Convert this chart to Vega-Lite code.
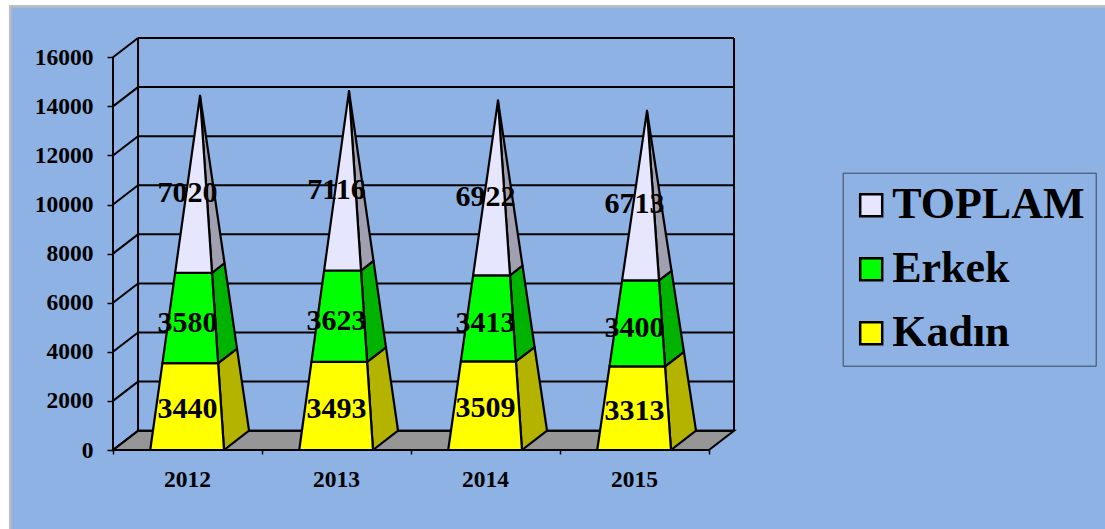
{
"$schema":"https://vega.github.io/schema/vega-lite/v6.json",
"width":621,"height":412,
"autosize":{"type":"none"},
"padding":{"left":113,"top":38,"right":371,"bottom":79},
"background":"#ffffff",
"config":{"view":{"stroke":null},"font":"Liberation Serif"},
"datasets":{
"sales":[
{"year":2012,"series":"Kadın","value":3440},{"year":2012,"series":"Erkek","value":3580},{"year":2012,"series":"TOPLAM","value":7020},
{"year":2013,"series":"Kadın","value":3493},{"year":2013,"series":"Erkek","value":3623},{"year":2013,"series":"TOPLAM","value":7116},
{"year":2014,"series":"Kadın","value":3509},{"year":2014,"series":"Erkek","value":3413},{"year":2014,"series":"TOPLAM","value":6922},
{"year":2015,"series":"Kadın","value":3313},{"year":2015,"series":"Erkek","value":3400},{"year":2015,"series":"TOPLAM","value":6713}
],
"grid":[{"v":0},{"v":2000},{"v":4000},{"v":6000},{"v":8000},{"v":10000},{"v":12000},{"v":14000},{"v":16000}]
},
"encoding":{
"x":{"field":"x","type":"quantitative","title":null,"scale":{"domain":[2011.5,2015.668],"nice":false,"zero":false},
"axis":{"values":[2011.5,2012.5,2013.5,2014.5,2015.5],"domain":false,"grid":false,"zindex":1,"tickColor":"#000000","tickWidth":1.5,"tickSize":4,"labelOffset":74,"labelExpr":"datum.value<2015?''+(floor(datum.value)+1):''","labelFont":"Liberation Serif","labelFontWeight":"bold","labelFontSize":23.5,"labelColor":"#000000","labelPadding":13,"labelOverlap":false,"labelBound":false,"labelFlush":false}},
"y":{"field":"y","type":"quantitative","title":null,"scale":{"domain":[0,16786],"nice":false,"zero":false},
"axis":{"values":[0,2000,4000,6000,8000,10000,12000,14000,16000],"format":"d","domain":false,"grid":false,"zindex":1,"tickColor":"#000000","tickWidth":1.5,"tickSize":6,"labelFont":"Liberation Serif","labelFontWeight":"bold","labelFontSize":23.5,"labelColor":"#000000","labelPadding":14,"labelOverlap":false,"labelBound":false}}
},
"layer":[
{"data":{"values":[{"x":2010.81,"x2":2018.3,"y":18080,"y2":-3700}]},
 "mark":{"type":"rect","fill":"#8DB2E3","stroke":"#BFBFBF","strokeWidth":2.5},
 "encoding":{"x2":{"field":"x2"},"y2":{"field":"y2"}}},
{"data":{"values":[{"x":2011.5,"y":0,"c":0},{"x":2015.5,"y":0,"c":1},{"x":2015.668,"y":786,"c":2},{"x":2011.668,"y":786,"c":3}]},
 "mark":{"type":"line","interpolate":"linear-closed","fill":"#969696","stroke":"#000000","strokeWidth":2},
 "encoding":{"order":{"field":"c"}}},
{"data":{"name":"grid"},
 "transform":[{"calculate":"2011.668","as":"x"},{"calculate":"2015.668","as":"x2"},{"calculate":"datum.v+786","as":"y"}],
 "mark":{"type":"rule","stroke":"#000000","strokeWidth":2},
 "encoding":{"x2":{"field":"x2"}}},
{"data":{"name":"grid"},
 "transform":[{"calculate":"2011.5","as":"x"},{"calculate":"2011.668","as":"x2"},{"calculate":"datum.v","as":"y"},{"calculate":"datum.v+786","as":"y2"}],
 "mark":{"type":"rule","stroke":"#000000","strokeWidth":2},
 "encoding":{"x2":{"field":"x2"},"y2":{"field":"y2"}}},
{"data":{"values":[{"x":2011.5,"y":0,"y2":16000},{"x":2011.668,"y":786,"y2":16786},{"x":2015.668,"y":786,"y2":16786}]},
 "mark":{"type":"rule","stroke":"#000000","strokeWidth":2},
 "encoding":{"y2":{"field":"y2"}}},
{"data":{"name":"sales"},
 "transform":[
  {"calculate":"indexof(['Kadın','Erkek','TOPLAM'],datum.series)","as":"rank"},
  {"stack":"value","groupby":["year"],"sort":[{"field":"rank","order":"ascending"}],"as":["v0","v1"]},
  {"joinaggregate":[{"op":"sum","field":"value","as":"T"}],"groupby":["year"]},
  {"calculate":"[0,1,2,3]","as":"c"},{"flatten":["c"]},
  {"calculate":"(datum.c<2?datum.v0:datum.v1)/datum.T","as":"t"},
  {"calculate":"datum.year+0.245+((datum.c==1||datum.c==2)?0.168:0)","as":"xb"},
  {"calculate":"(datum.c==1||datum.c==2)?786:0","as":"vb"},
  {"calculate":"datum.xb+datum.t*(datum.year+0.084-datum.xb)","as":"x"},
  {"calculate":"datum.vb+datum.t*(datum.T+393-datum.vb)","as":"y"},
  {"calculate":"datum.year+'-'+datum.series","as":"poly"}
 ],
 "mark":{"type":"line","interpolate":"linear-closed","stroke":"#000000","strokeWidth":2.2,"strokeJoin":"round"},
 "encoding":{"detail":{"field":"poly"},"order":{"field":"c"},
  "fill":{"field":"series","type":"nominal","legend":null,"scale":{"domain":["TOPLAM","Erkek","Kadın"],"range":["#A0A0B0","#00B300","#B3B300"]}}}},
{"data":{"name":"sales"},
 "transform":[
  {"calculate":"indexof(['Kadın','Erkek','TOPLAM'],datum.series)","as":"rank"},
  {"stack":"value","groupby":["year"],"sort":[{"field":"rank","order":"ascending"}],"as":["v0","v1"]},
  {"joinaggregate":[{"op":"sum","field":"value","as":"T"}],"groupby":["year"]},
  {"calculate":"[0,1,2,3]","as":"c"},{"flatten":["c"]},
  {"calculate":"(datum.c<2?datum.v0:datum.v1)/datum.T","as":"t"},
  {"calculate":"datum.year+((datum.c==1||datum.c==2)?0.245:-0.25)","as":"xb"},
  {"calculate":"datum.xb+datum.t*(datum.year+0.084-datum.xb)","as":"x"},
  {"calculate":"datum.t*(datum.T+393)","as":"y"},
  {"calculate":"datum.year+'-'+datum.series","as":"poly"}
 ],
 "mark":{"type":"line","interpolate":"linear-closed","stroke":"#000000","strokeWidth":2.2,"strokeJoin":"round"},
 "encoding":{"detail":{"field":"poly"},"order":{"field":"c"},
  "fill":{"field":"series","type":"nominal","title":null,
   "scale":{"domain":["TOPLAM","Erkek","Kadın"],"range":["#E6E6FF","#00FF00","#FFFF00"]},
   "legend":{"orient":"none","legendX":729.7,"legendY":134.7,"title":null,"symbolType":"square","symbolSize":484,"symbolStrokeColor":"#000000","symbolStrokeWidth":2.5,"symbolOpacity":1,"symbolOffset":-4,"labelFont":"Liberation Serif","labelFontWeight":"bold","labelFontSize":44,"labelColor":"#000000","labelOffset":-1,"rowPadding":20,"padding":10.5,"strokeColor":"#3A4660","fillColor":"#8DB2E3","cornerRadius":0,"labelLimit":400}}}},
{"data":{"name":"sales"},
 "transform":[
  {"calculate":"indexof(['Kadın','Erkek','TOPLAM'],datum.series)","as":"rank"},
  {"stack":"value","groupby":["year"],"sort":[{"field":"rank","order":"ascending"}],"as":["v0","v1"]},
  {"calculate":"datum.year","as":"x"},
  {"calculate":"(datum.v0+datum.v1)/2","as":"y"}
 ],
 "mark":{"type":"text","font":"Liberation Serif","fontWeight":"bold","fontSize":30,"color":"#000000","baseline":"middle","align":"center","dy":1.5},
 "encoding":{"text":{"field":"value","type":"quantitative","format":"d"}}}
],
"resolve":{"scale":{"fill":"independent"}}
}
